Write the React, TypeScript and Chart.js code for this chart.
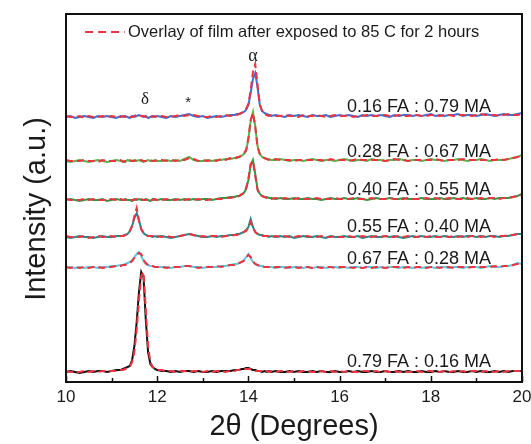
import React, { useEffect, useRef } from 'react';
import { Chart, registerables } from 'chart.js';

Chart.register(...registerables);

// 2θ positions (degrees)
const TWO_THETA = [
  10.0, 10.1, 10.2, 10.3, 10.4, 10.5, 10.6, 10.7, 10.8, 10.9, 11.0, 11.1, 11.2,
  11.25, 11.3, 11.35, 11.4, 11.45, 11.5, 11.55, 11.6, 11.65, 11.7, 11.75, 11.8, 11.85, 11.9, 11.95, 12.0,
  12.1, 12.2, 12.3, 12.4, 12.5, 12.6, 12.7, 12.8, 12.9, 13.0, 13.1, 13.2, 13.3, 13.4, 13.5, 13.6, 13.7,
  13.75, 13.8, 13.85, 13.9, 13.95, 14.0, 14.05, 14.1, 14.15, 14.2, 14.25, 14.3, 14.35, 14.4, 14.45,
  14.5, 14.6, 14.7, 14.8, 14.9, 15.0, 15.1,
  15.2, 15.3, 15.4, 15.5, 15.6, 15.7, 15.8,
  15.9, 16.0, 16.1, 16.2, 16.3, 16.4, 16.5,
  16.6, 16.7, 16.8, 16.9, 17.0, 17.1, 17.2,
  17.3, 17.4, 17.5, 17.6, 17.7, 17.8, 17.9,
  18.0, 18.1, 18.2, 18.3, 18.4, 18.5, 18.6,
  18.7, 18.8, 18.9, 19.0, 19.1, 19.2, 19.3,
  19.4, 19.5, 19.6, 19.7, 19.8, 19.9, 20.0,
];

// Sample names (top to bottom)
const SAMPLES = [
  '0.16 FA : 0.79 MA',
  '0.28 FA : 0.67 MA',
  '0.40 FA : 0.55 MA',
  '0.55 FA : 0.40 MA',
  '0.67 FA : 0.28 MA',
  '0.79 FA : 0.16 MA',
];

// Vertical stacking offsets of each pattern (a.u.)
const OFFSETS = [265, 221, 182, 145, 114, 10];

const OVERLAY_LABEL = 'Overlay of film after exposed to 85 C for 2 hours';

// Intensities (a.u., above each pattern's offset): as-made film
const FRESH_016 = [
  0, 1, -1, 0, 1, 0, -1, 1, 0, 1, 0, -1, 1,
  0, 1, 0, -1, 1, 0, 1, 2, 1, 0, 1, -1, 0, 1, 0, 1,
  0, -1, 1, 0, 1, 2, 3, 1, 0, 1, -1, 0, 1, 0, 1, 2, 2,
  3, 3, 4, 5, 7, 12, 24, 38, 44, 30, 12, 6, 4, 3, 2,
  1, 2, 1, 0, 2, 1, 2,
  1, 0, 2, 1, 1, 2, 0,
  1, 2, 1, 2, 1, 0, 2,
  1, 2, 1, 2, 1, 0, 2,
  1, 2, 2, 1, 2, 1, 2,
  3, 1, 2, 1, 2, 2, 3,
  1, 2, 2, 1, 2, 3, 2,
  1, 2, 3, 2, 2, 3, 4,
];
const FRESH_028 = [
  0, -1, 0, 1, 0, -1, 0, 1, 0, -1, 0, 1, 0,
  0, -1, 1, 0, 0, 1, 0, 1, 0, -1, 0, 1, 0, 0, 1, 0,
  0, 1, 0, 1, 0, 2, 4, 1, 0, 0, 1, 0, 1, 1, 2, 2, 3,
  3, 4, 5, 7, 10, 22, 40, 49, 35, 15, 7, 4, 3, 2, 2,
  1, 1, 2, 1, 0, 1, 1,
  0, 1, 2, 1, 0, 1, 1,
  0, 1, 2, 1, 0, 1, 1,
  0, 2, 1, 1, 0, 1, 1,
  2, 1, 0, 1, 1, 0, 1,
  2, 1, 1, 0, 1, 1, 2,
  1, 0, 1, 1, 2, 1, 0,
  1, 1, 1, 2, 3, 4, 6,
];
const FRESH_040 = [
  0, 1, 0, -1, 0, 1, 0, 0, 1, -1, 0, 1, 0,
  0, 1, 0, 0, -1, 1, 0, 1, 0, 0, 1, 0, -1, 1, 0, 0,
  1, 0, 0, 1, 0, 1, 0, 1, 0, 1, 1, 0, 1, 2, 2, 3, 3,
  4, 4, 5, 7, 11, 20, 35, 40, 26, 11, 6, 4, 3, 3, 2,
  2, 1, 2, 1, 1, 2, 1,
  1, 2, 1, 1, 0, 1, 2,
  1, 1, 2, 1, 1, 2, 1,
  0, 1, 2, 1, 1, 2, 1,
  1, 2, 1, 1, 1, 2, 1,
  1, 1, 2, 1, 1, 2, 1,
  2, 1, 1, 2, 1, 1, 2,
  1, 2, 2, 2, 3, 4, 6,
];
const FRESH_055 = [
  0, -1, 0, 1, 0, 0, -1, 0, 1, 0, 0, 1, 1,
  1, 2, 3, 6, 11, 19, 24, 17, 8, 4, 2, 1, 1, 0, 1, 0,
  1, 0, -1, 0, 1, 2, 3, 2, 1, 0, 0, 1, 0, 1, 1, 2, 2,
  3, 3, 4, 5, 7, 10, 18, 10, 5, 3, 2, 2, 1, 1, 0,
  1, 0, 1, 0, 1, -1, 0,
  1, 0, 0, 1, 0, -1, 1,
  0, 0, 1, 0, 0, 1, -1,
  0, 1, 0, 0, 1, 0, 1,
  0, -1, 0, 1, 0, 1, 0,
  0, 1, 0, 1, 0, 0, 1,
  0, 1, 1, 0, 1, 0, 1,
  1, 0, 1, 1, 2, 3, 3,
];
const FRESH_067 = [
  0, 1, 0, 1, 0, 1, 1, 0, 1, 1, 2, 2, 3,
  3, 4, 5, 6, 8, 11, 14, 16, 12, 7, 4, 3, 2, 2, 1, 1,
  1, 1, 0, 1, 1, 2, 2, 1, 1, 0, 1, 1, 1, 2, 2, 3, 4,
  4, 5, 6, 8, 11, 14, 10, 6, 4, 3, 2, 2, 1, 1, 1,
  1, 0, 1, 1, 0, 1, 1,
  0, 1, 0, 1, 1, 0, 1,
  1, 0, 1, 0, 1, 1, 0,
  1, 1, 0, 1, 0, 1, 1,
  0, 1, 1, 0, 1, 0, 1,
  1, 0, 1, 1, 0, 1, 1,
  0, 1, 1, 1, 0, 1, 2,
  1, 1, 2, 2, 3, 5, 4,
];
const FRESH_079 = [
  0, 1, 0, -1, 0, 1, 0, 1, 1, 0, 1, 2, 2,
  3, 4, 5, 6, 12, 26, 50, 80, 100, 95, 52, 20, 8, 5, 3, 2,
  1, 1, 0, 1, 0, 1, 1, 0, 1, 0, 0, 1, 0, 1, 1, 1, 2,
  2, 2, 3, 3, 4, 4, 3, 2, 2, 1, 1, 0, 1, 0, 1,
  0, 1, 0, 0, 1, 0, 1,
  0, 0, 1, 0, 1, 0, 0,
  1, 0, 0, 1, 0, 1, 0,
  0, 1, 0, 0, 1, 0, 0,
  1, 0, 1, 0, 0, 1, 0,
  0, 1, 0, 1, 0, 0, 1,
  0, 0, 1, 0, 1, 0, 0,
  1, 0, 1, 0, 1, 1, 1,
];

// Intensities after 2 h at 85 C (dashed overlay)
const AGED_016 = [
  1, 0, 0, 1, -1, 1, 0, 0, 1, 0, 1, 0, 0,
  1, 0, 1, 0, 0, 1, 2, 1, 1, 1, 0, 0, 1, 0, 1, 0,
  1, 0, 0, 1, 2, 1, 2, 2, 1, 0, 0, 1, 0, 1, 2, 1, 2,
  2, 3, 4, 6, 8, 13, 27, 45, 53, 32, 13, 6, 3, 2, 1,
  2, 1, 1, 2, 1, 1, 0,
  2, 1, 1, 2, 1, 0, 1,
  2, 1, 1, 2, 0, 1, 1,
  2, 1, 1, 2, 2, 1, 1,
  2, 1, 1, 2, 2, 1, 1,
  2, 2, 1, 2, 2, 1, 2,
  2, 2, 1, 2, 3, 2, 2,
  2, 1, 2, 3, 2, 2, 3,
];
const AGED_028 = [
  1, 0, 0, 0, 1, 0, 0, -1, 1, 0, 0, 0, 1,
  -1, 0, 0, 1, 0, 0, 1, 0, 1, 0, 0, 0, 1, 0, 0, 1,
  1, 0, 1, 0, 1, 1, 3, 2, 0, 1, 0, 1, 0, 2, 1, 3, 2,
  4, 4, 6, 8, 11, 23, 41, 48, 34, 14, 7, 4, 3, 2, 1,
  1, 2, 1, 1, 1, 0, 1,
  1, 1, 1, 1, 1, 0, 2,
  1, 1, 1, 0, 1, 2, 1,
  1, 1, 1, 1, 0, 1, 2,
  1, 1, 0, 1, 1, 1, 1,
  1, 2, 1, 0, 1, 1, 1,
  2, 1, 1, 1, 1, 1, 1,
  1, 2, 1, 2, 3, 4, 5,
];
const AGED_040 = [
  1, 0, 0, 0, 1, 0, 1, 0, 0, 0, 1, 0, 1,
  0, 0, 1, 0, 0, 0, 1, 0, 1, 0, 0, 1, 0, 0, 1, 0,
  0, 1, 0, 0, 1, 0, 1, 0, 1, 0, 0, 1, 1, 1, 2, 2, 3,
  3, 4, 6, 7, 12, 21, 36, 39, 24, 10, 5, 4, 3, 2, 2,
  1, 2, 1, 2, 1, 1, 2,
  1, 1, 1, 2, 1, 1, 1,
  2, 1, 1, 1, 2, 1, 1,
  1, 2, 1, 1, 1, 2, 1,
  1, 1, 2, 1, 1, 1, 2,
  1, 2, 1, 1, 2, 1, 1,
  1, 2, 1, 1, 2, 1, 2,
  2, 1, 2, 2, 3, 4, 5,
];
const AGED_055 = [
  1, 0, 0, 0, 1, -1, 0, 1, 0, 0, 1, 0, 1,
  1, 2, 3, 6, 11, 21, 29, 16, 8, 4, 2, 1, 1, 1, 0, 1,
  0, 1, 0, 0, 1, 2, 3, 2, 0, 1, 0, 1, 1, 0, 1, 1, 2,
  2, 3, 4, 5, 6, 9, 15, 9, 5, 3, 2, 1, 1, 1, 1,
  0, 1, 0, 1, 0, 0, 1,
  0, 1, 0, 0, 1, 0, 0,
  1, 0, 0, 1, 0, 0, 1,
  0, 0, 1, 0, 1, 0, 0,
  1, 0, 1, 0, 0, 1, 0,
  1, 0, 0, 1, 0, 1, 0,
  1, 0, 1, 1, 0, 1, 1,
  0, 1, 1, 2, 2, 3, 3,
];
const AGED_067 = [
  1, 0, 1, 0, 1, 0, 1, 1, 0, 1, 1, 2, 2,
  3, 3, 4, 5, 7, 10, 13, 15, 14, 8, 5, 3, 2, 2, 1, 1,
  1, 0, 1, 1, 1, 2, 2, 1, 0, 1, 1, 1, 2, 1, 2, 3, 3,
  4, 5, 6, 7, 10, 13, 11, 7, 4, 3, 2, 2, 1, 1, 1,
  0, 1, 1, 0, 1, 1, 0,
  1, 1, 0, 1, 0, 1, 1,
  0, 1, 1, 1, 0, 1, 0,
  1, 0, 1, 1, 0, 1, 1,
  1, 0, 1, 0, 1, 1, 0,
  1, 1, 0, 1, 1, 0, 1,
  1, 0, 1, 1, 1, 1, 1,
  2, 1, 2, 2, 3, 4, 5,
];
const AGED_079 = [
  1, 0, 0, 0, 1, 0, 1, 0, 1, 1, 1, 1, 2,
  2, 3, 4, 5, 10, 20, 42, 72, 96, 100, 62, 26, 10, 5, 3, 2,
  2, 1, 1, 0, 1, 1, 0, 1, 1, 0, 1, 0, 1, 1, 0, 1, 1,
  2, 2, 2, 3, 3, 3, 3, 2, 1, 1, 1, 1, 0, 1, 0,
  1, 0, 1, 1, 0, 1, 0,
  1, 1, 0, 0, 1, 0, 1,
  0, 1, 0, 1, 0, 0, 1,
  1, 0, 1, 0, 1, 0, 1,
  0, 1, 0, 0, 1, 0, 1,
  1, 0, 0, 1, 0, 1, 0,
  1, 0, 1, 1, 0, 1, 0,
  0, 1, 0, 1, 1, 1, 1,
];

const FRESH = [FRESH_016, FRESH_028, FRESH_040, FRESH_055, FRESH_067, FRESH_079];
const AGED = [AGED_016, AGED_028, AGED_040, AGED_055, AGED_067, AGED_079];

const X_TICKS = [10, 12, 14, 16, 18, 20];

// ---- styles ----
const COLORS = ['#3d6fd2', '#55b548', '#2f9a46', '#1f8b8a', '#5cc7de', '#111111'];
const RED = '#ee3340';
const FONT = '"Liberation Sans", Arial, Helvetica, sans-serif';
const SERIF = '"Liberation Serif", "Times New Roman", serif';

const Y_MAX = 368;

// annotation positions in data coordinates
const SAMPLE_LABEL_X = 16.16;
const SAMPLE_LABEL_Y = [275, 230, 192, 155, 123, 20];

const frameAndText = {
  id: 'frameAndText',
  afterDraw(chart: any) {
    const { ctx, chartArea, scales } = chart;
    const { left, right, top, bottom } = chartArea;
    const xs = scales.x;
    const ys = scales.y;
    ctx.save();
    ctx.setLineDash([]);
    // frame
    ctx.strokeStyle = '#111';
    ctx.lineWidth = 2;
    ctx.strokeRect(left, top, right - left, bottom - top);
    // inward ticks
    ctx.lineWidth = 1.5;
    for (let v = 10; v <= 20; v++) {
      const px = Math.round(xs.getPixelForValue(v)) + 0.5;
      const len = v % 2 === 0 ? 6 : 4;
      ctx.beginPath();
      ctx.moveTo(px, bottom);
      ctx.lineTo(px, bottom - len);
      ctx.stroke();
    }
    ctx.fillStyle = '#1a1a1a';
    // sample labels
    ctx.font = `18px ${FONT}`;
    ctx.textAlign = 'left';
    ctx.textBaseline = 'middle';
    SAMPLES.forEach((s, i) => {
      ctx.fillText(s, xs.getPixelForValue(SAMPLE_LABEL_X), ys.getPixelForValue(SAMPLE_LABEL_Y[i]));
    });
    // phase markers
    ctx.textAlign = 'center';
    ctx.font = `18px ${SERIF}`;
    ctx.fillText('α', xs.getPixelForValue(14.1), ys.getPixelForValue(326));
    ctx.font = `17px ${SERIF}`;
    ctx.fillText('δ', xs.getPixelForValue(11.73), ys.getPixelForValue(282));
    ctx.font = `15px ${FONT}`;
    ctx.fillText('*', xs.getPixelForValue(12.68), ys.getPixelForValue(279));
    // legend
    const ly = ys.getPixelForValue(350);
    ctx.strokeStyle = RED;
    ctx.lineWidth = 2;
    ctx.setLineDash([8, 5]);
    ctx.beginPath();
    ctx.moveTo(xs.getPixelForValue(10.42), ly);
    ctx.lineTo(xs.getPixelForValue(11.29), ly);
    ctx.stroke();
    ctx.setLineDash([]);
    ctx.textAlign = 'left';
    ctx.font = `16.5px ${FONT}`;
    ctx.fillText(OVERLAY_LABEL, xs.getPixelForValue(11.36), ly);
    // axis titles
    ctx.textAlign = 'center';
    ctx.textBaseline = 'middle';
    ctx.font = `29px ${FONT}`;
    ctx.fillText('2θ (Degrees)', (left + right) / 2, 427);
    ctx.save();
    ctx.translate(37, 209);
    ctx.rotate(-Math.PI / 2);
    ctx.fillText('Intensity (a.u.)', 0, 0);
    ctx.restore();
    ctx.restore();
  },
};

export default function App() {
  const ref = useRef<HTMLCanvasElement | null>(null);
  useEffect(() => {
    if (!ref.current) return;
    const datasets: any[] = [];
    SAMPLES.forEach((name, i) => {
      datasets.push({
        label: name,
        data: TWO_THETA.map((x, k) => ({ x, y: OFFSETS[i] + FRESH[i][k] })),
        borderColor: COLORS[i],
        borderWidth: 2,
        pointRadius: 0,
        tension: 0,
        order: 2,
      });
      datasets.push({
        label: name + ' (' + OVERLAY_LABEL + ')',
        data: TWO_THETA.map((x, k) => ({ x, y: OFFSETS[i] + AGED[i][k] })),
        borderColor: RED,
        borderWidth: 2,
        borderDash: [7, 4],
        pointRadius: 0,
        tension: 0,
        order: 1,
      });
    });
    const chart = new Chart(ref.current, {
      type: 'line',
      data: { datasets },
      plugins: [frameAndText],
      options: {
        animation: false,
        responsive: true,
        maintainAspectRatio: false,
        layout: { padding: { left: 66, right: 9, top: 14, bottom: 0 } },
        plugins: { legend: { display: false }, tooltip: { enabled: false } },
        scales: {
          x: {
            type: 'linear',
            min: 10,
            max: 20,
            afterBuildTicks: (s: any) => {
              s.ticks = X_TICKS.map((v) => ({ value: v }));
            },
            afterFit: (s: any) => {
              s.height = 62;
              s.paddingLeft = 0;
              s.paddingRight = 0;
            },
            grid: { display: false, drawTicks: false },
            border: { display: false },
            ticks: {
              padding: 5,
              color: '#1a1a1a',
              font: { family: FONT, size: 17 },
              maxRotation: 0,
              autoSkip: false,
            },
          },
          y: {
            display: false,
            min: 0,
            max: Y_MAX,
          },
        },
      },
    });
    return () => chart.destroy();
  }, []);
  return (
    <div style={{ position: 'fixed', left: 0, top: 0, width: 531, height: 444, background: '#fff' }}>
      <canvas ref={ref} />
    </div>
  );
}
